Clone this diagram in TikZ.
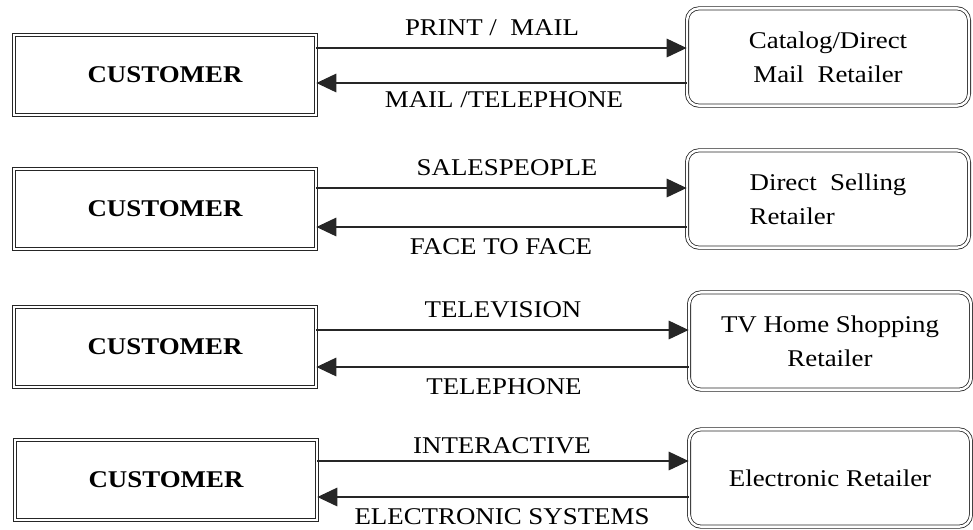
\documentclass[tikz,border=0pt]{standalone}
\usepackage{fontspec}
\setmainfont{Liberation Serif}[FakeStretch=1.12]
\usetikzlibrary{arrows.meta}
\begin{document}
\begin{tikzpicture}[x=0.75pt,y=-0.75pt,
  custbox/.style={draw=black!85, double, double distance=1.8pt, line width=0.6pt,
    minimum width=226.5pt, minimum height=60pt, inner sep=0pt,
    font=\fontsize{18}{22}\selectfont\bfseries},
  retbox/.style={draw=black!85, double, double distance=1.8pt, line width=0.6pt,
    rounded corners=9pt, minimum width=211.5pt, minimum height=73pt, inner sep=0pt,
    align=center, font=\fontsize{18}{25.5}\selectfont},
  lbl/.style={font=\fontsize{18}{22}\selectfont, inner sep=0pt},
  flow/.style={line width=0.9pt, draw=black!85, -{Triangle[length=15pt,width=14pt]}}
]
\useasboundingbox (0,0) rectangle (973,529);

% row 1
\node[custbox] (c1) at (165,75) {CUSTOMER};
\node[retbox] (r1) at (828,57) {Catalog/Direct\\Mail~~Retailer};
\draw[flow] (c1.east |- 0,48) -- (r1.west |- 0,48);
\draw[flow] (r1.west |- 0,83) -- (c1.east |- 0,83);
\node[lbl] (l1a) at (492,28) {PRINT /~~MAIL};
\node[lbl] (l1b) at (504,100) {MAIL /TELEPHONE};

% row 2
\node[custbox] (c2) at (165,209) {CUSTOMER};
\node[retbox, align=left] (r2) at (828,199) {Direct~~Selling\\Retailer};
\draw[flow] (c2.east |- 0,188) -- (r2.west |- 0,188);
\draw[flow] (r2.west |- 0,227) -- (c2.east |- 0,227);
\node[lbl] (l2a) at (507,168) {SALESPEOPLE};
\node[lbl] (l2b) at (501,247) {FACE TO FACE};

% row 3
\node[custbox] (c3) at (165,347) {CUSTOMER};
\node[retbox] (r3) at (830,341) {TV Home Shopping\\Retailer};
\draw[flow] (c3.east |- 0,330) -- (r3.west |- 0,330);
\draw[flow] (r3.west |- 0,367) -- (c3.east |- 0,367);
\node[lbl] (l3a) at (503,310) {TELEVISION};
\node[lbl] (l3b) at (504,387) {TELEPHONE};

% row 4
\node[custbox] (c4) at (166,480) {CUSTOMER};
\node[retbox] (r4) at (830,478) {Electronic Retailer};
\draw[flow] (c4.east |- 0,461) -- (r4.west |- 0,461);
\draw[flow] (r4.west |- 0,497) -- (c4.east |- 0,497);
\node[lbl] (l4a) at (502,446) {INTERACTIVE};
\node[lbl] (l4b) at (502,517) {ELECTRONIC SYSTEMS};
\end{tikzpicture}
\end{document}
